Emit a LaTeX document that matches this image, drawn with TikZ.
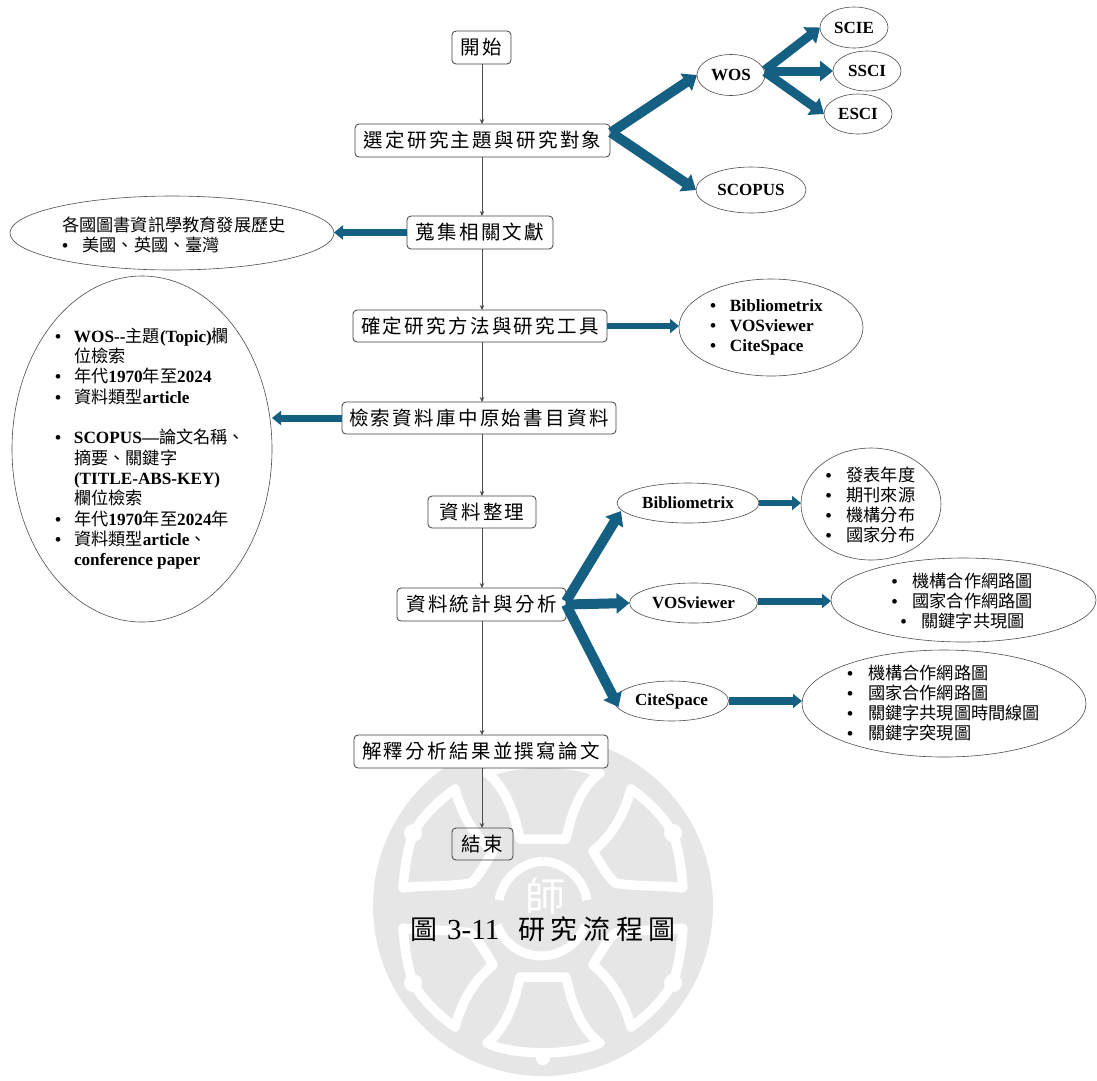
\documentclass[tikz,border=0pt]{standalone}
\usepackage{fontspec}
\setmainfont{Liberation Serif}
\newfontfamily\cjk{Noto Sans CJK TC}
\newfontfamily\cjkw[LetterSpace=12]{Noto Sans CJK TC}
\newfontfamily\cjkc[LetterSpace=21]{Noto Sans CJK TC}
\usetikzlibrary{shapes.geometric,arrows.meta}
\newcommand{\zh}[1]{{\cjk\mdseries #1}}
\newcommand{\bul}[1][20pt]{\makebox[#1][l]{•}}
\definecolor{blockblue}{HTML}{156082}
\definecolor{wmgray}{HTML}{E6E6E6}
\tikzset{
  stepbox/.style={draw=black!75,line width=.8pt,rounded corners=4pt,fill=white,inner sep=0pt,outer sep=0pt,
    font=\fontsize{19.5}{22}\selectfont\cjkw},
  ell/.style={draw=black!70,line width=.6pt,ellipse,inner sep=0pt,outer sep=0pt,
    font=\fontsize{17}{20}\selectfont\bfseries},
  lst/.style={inner sep=0pt,outer sep=0pt,align=left,anchor=west,
    font=\fontsize{17.2}{20}\selectfont\bfseries},
  thinarrow/.style={draw=black!70,line width=.7pt,-{Stealth[length=5pt,width=4.5pt]}},
  blockarrow/.style={draw=blockblue,line width=#1,-{Triangle[length=13pt,width=20pt,fill=blockblue]}},
  blockarrow/.default=10pt,
  smallblock/.style={draw=blockblue,line width=#1,-{Triangle[length=9pt,width=14pt,fill=blockblue]}},
  smallblock/.default=6.5pt,
  wmline/.style={draw=white,line width=9.5pt,line join=round,line cap=round},
}
\begin{document}
\begin{tikzpicture}[x=1pt,y=-1pt]
\useasboundingbox (0,0) rectangle (1097,1080);
% watermark
\fill[wmgray] (543,906) circle[radius=170pt];
\foreach \sx/\sy in {1/1,-1/1,1/-1,-1/-1}{
  \begin{scope}[shift={(543,908)},xscale=\sx,yscale=\sy]
    \draw[wmline] (-140,20) .. controls (-138,46) and (-134,63) .. (-130,75)
       .. controls (-118,95) and (-102,109) .. (-88,119)
       .. controls (-82,97) and (-72,75) .. (-50,57)
       .. controls (-58,43) and (-64,33) .. (-72,25)
       .. controls (-95,21) and (-120,23) .. (-140,20) -- cycle;
    \fill[white] (-130,75) circle[radius=9pt];
  \end{scope}
}
\foreach \sy in {1,-1}{
  \begin{scope}[shift={(543,908)},yscale=\sy]
    \draw[wmline] (-23,69) -- (23,69) .. controls (30,102) and (40,122) .. (57,135)
       .. controls (30,148) and (-30,148) .. (-56,135)
       .. controls (-40,122) and (-30,102) .. (-23,69) -- cycle;
    \fill[white] (0,150) circle[radius=7pt];
  \end{scope}
}
\draw[draw=white,line width=9pt] (499,900) arc[start angle=170,end angle=93,radius=47pt];
\draw[draw=white,line width=9pt] (587,900) arc[start angle=10,end angle=87,radius=47pt];
\draw[draw=white,line width=9pt] (497,925) arc[start angle=200,end angle=340,radius=47pt];
\node[inner sep=0pt,text=white,font=\fontsize{40}{42}\selectfont\cjk] (shi) at (545,896) {師};

% steps
\node[stepbox,minimum width=59pt,minimum height=33pt] (start) at (481.5,47.5) {開始};
\node[stepbox,minimum width=255pt,minimum height=33pt] (topic) at (482.5,140.5) {選定研究主題與研究對象};
\node[stepbox,minimum width=146pt,minimum height=33pt] (collect) at (480,232.5) {蒐集相關文獻};
\node[stepbox,minimum width=254pt,minimum height=32pt] (method) at (480,326) {確定研究方法與研究工具};
\node[stepbox,minimum width=274pt,minimum height=32pt] (search) at (479,418) {檢索資料庫中原始書目資料};
\node[stepbox,minimum width=108pt,minimum height=32pt] (org) at (482,512) {資料整理};
\node[stepbox,minimum width=169pt,minimum height=33pt] (stats) at (481.5,604.5) {資料統計與分析};
\node[stepbox,minimum width=254pt,minimum height=33pt] (interp) at (481,751.5) {解釋分析結果並撰寫論文};
\node[stepbox,fill=none,minimum width=61pt,minimum height=32pt] (finish) at (482.5,844) {結束};

\foreach \a/\b in {start/topic,topic/collect,collect/method,method/search,search/org,org/stats,stats/interp,interp/finish}
  \draw[thinarrow] (482,0 |- \a.south) -- (482,0 |- \b.north);

% ellipses
\node[ell,minimum width=68pt,minimum height=41pt] (wos) at (731,75) {WOS};
\node[ell,minimum width=68pt,minimum height=41pt] (scie) at (854,27.5) {SCIE};
\node[ell,minimum width=68pt,minimum height=40pt] (ssci) at (867,71) {SSCI};
\node[ell,minimum width=68pt,minimum height=40pt] (esci) at (858,114) {ESCI};
\node[ell,minimum width=110pt,minimum height=46pt] (scopus) at (751,190) {SCOPUS};
\node[ell,minimum width=324pt,minimum height=74pt] (history) at (172,233) {};
\node[ell,minimum width=260pt,minimum height=346pt] (big) at (142,449) {};
\node[ell,minimum width=184pt,minimum height=97pt] (tools) at (771,327.5) {};
\node[ell,minimum width=142pt,minimum height=40pt] (biblio) at (688,503) {Bibliometrix};
\node[ell,minimum width=128pt,minimum height=40pt] (vos) at (693.5,603) {VOSviewer};
\node[ell,minimum width=114pt,minimum height=40pt] (cite) at (671.5,701) {CiteSpace};
\node[ell,minimum width=140pt,minimum height=112pt] (pub) at (871,504) {};
\node[ell,minimum width=265pt,minimum height=84pt] (voslist) at (963.5,600) {};
\node[ell,minimum width=284pt,minimum height=107pt] (citelist) at (944,703.5) {};

% list texts
\node[lst] (historytext) at (62,234.5) {\zh{各國圖書資訊學教育發展歷史}\\\bul[20.5pt]\zh{美國、英國、臺灣}};
\node[lst] (toolstext) at (710,327.5) {\bul Bibliometrix\\\bul VOSviewer\\\bul CiteSpace};
\node[lst,font=\fontsize{17.2}{20.32}\selectfont\bfseries] (bigtext) at (55,448.5) {%
  \bul[19pt]WOS-{}-\zh{主題}(Topic)\zh{欄}\\
  \hspace*{19pt}\zh{位檢索}\\
  \bul[19pt]\zh{年代}1970\zh{年至}2024\\
  \bul[19pt]\zh{資料類型}article\\
  \mbox{}\\
  \bul[19pt]SCOPUS—\zh{論文名稱、}\\
  \hspace*{19pt}\zh{摘要、關鍵字}\\
  \hspace*{19pt}(TITLE-ABS-KEY)\\
  \hspace*{19pt}\zh{欄位檢索}\\
  \bul[19pt]\zh{年代}1970\zh{年至}2024\zh{年}\\
  \bul[19pt]\zh{資料類型}article\zh{、}\\
  \hspace*{19pt}conference paper};
\node[lst] (pubtext) at (825.5,505) {\bul[21pt]\zh{發表年度}\\\bul[21pt]\zh{期刊來源}\\\bul[21pt]\zh{機構分布}\\\bul[21pt]\zh{國家分布}};
\node[lst] (vostext) at (891.5,601) {\bul[21pt]\zh{機構合作網路圖}\\\bul[21pt]\zh{國家合作網路圖}\\\hspace*{9pt}\bul[21pt]\zh{關鍵字共現圖}};
\node[lst] (citetext) at (847,703) {\bul[21pt]\zh{機構合作網路圖}\\\bul[21pt]\zh{國家合作網路圖}\\\bul[21pt]\zh{關鍵字共現圖時間線圖}\\\bul[21pt]\zh{關鍵字突現圖}};

% block arrows
\draw[blockarrow] ([yshift=8pt,xshift=1pt]topic.east) -- (wos.west);
\draw[blockarrow] ([yshift=8pt,xshift=1pt]topic.east) -- (scopus.west);
\draw[blockarrow=9pt] ([yshift=5pt]wos.east) -- (scie.west);
\draw[blockarrow=9pt] ([yshift=4pt]wos.east) -- (ssci.west);
\draw[blockarrow=9pt] ([yshift=3pt]wos.east) -- (esci.west);
\draw[smallblock=7pt] (collect.west) -- (history.east |- collect.west);
\draw[smallblock=7pt] (search.west) -- (big.east |- search.west);
\draw[smallblock=6pt] (method.east) -- (tools.west |- method.east);
\draw[blockarrow] ([yshift=3pt]stats.east) -- ([yshift=-8pt,xshift=4pt]biblio.west);
\draw[blockarrow] (stats.east) -- (vos.west);
\draw[blockarrow] (stats.east) -- ([yshift=-6pt,xshift=4pt]cite.west);
\draw[smallblock=6.5pt] (biblio.east) -- (pub.west |- biblio.east);
\draw[smallblock=7pt] ([yshift=2pt]vos.east) -- (voslist.west |- 0,601);
\draw[smallblock=8pt] (cite.east) -- (citelist.west |- cite.east);

% caption
\node[inner sep=0pt,anchor=west,font=\fontsize{27}{30}\selectfont] (caption) at (410,929) {%
  \cjk 圖\hspace{10pt}{\rmfamily\fontsize{29}{30}\selectfont 3-11}\hspace{19pt}{\cjkc 研究流程圖}};
\end{tikzpicture}
\end{document}
